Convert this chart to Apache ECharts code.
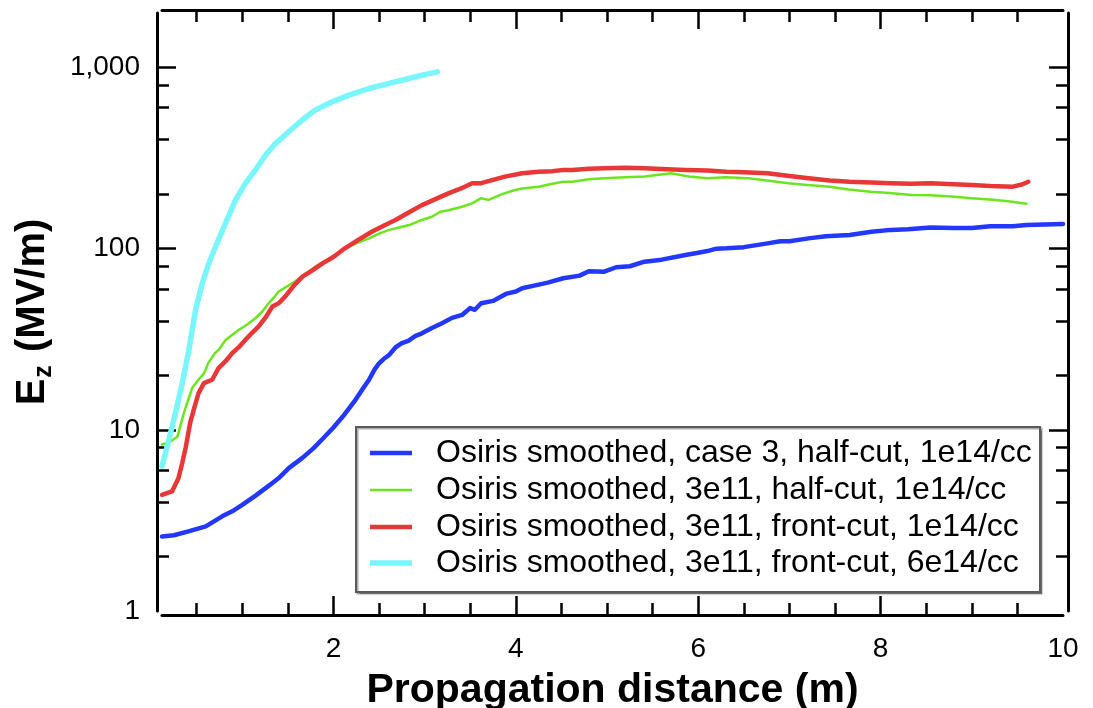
<!DOCTYPE html>
<html>
<head>
<meta charset="utf-8">
<title>Ez vs propagation distance</title>
<script src="https://cdn.jsdelivr.net/npm/echarts@6/dist/echarts.min.js"></script>
<style>
  html, body { margin: 0; padding: 0; background: #ffffff; }
  #chart { width: 1093px; height: 708px; }
</style>
</head>
<body>
<div id="chart"></div>
<script>
// ---- data: [propagation distance (m), Ez (MV/m)] ----
const caseThreeHalfCut = [
  [0.12,2.58],[0.25,2.62],[0.41,2.75],[0.6,2.93],[0.78,3.33],[0.89,3.55],[1.0,3.85],[1.15,4.35],
  [1.3,4.95],[1.4,5.42],[1.51,6.15],[1.66,7.0],[1.78,7.9],[1.88,8.9],[2.0,10.3],[2.1,11.8],
  [2.24,14.6],[2.32,16.8],[2.39,18.9],[2.45,21.5],[2.5,23.3],[2.55,24.6],[2.61,25.9],[2.68,28.5],
  [2.75,30.1],[2.82,31.0],[2.9,33.0],[2.97,34.1],[3.08,36.5],[3.19,38.8],[3.3,41.5],[3.41,43.1],
  [3.5,47.0],[3.55,46.0],[3.62,50.0],[3.75,51.5],[3.9,56.5],[4.0,58.0],[4.07,60.5],[4.2,62.5],
  [4.35,65],[4.52,68.7],[4.7,71],[4.8,75],[4.97,74.7],[5.1,79],[5.25,80],[5.41,84.8],[5.6,87],
  [5.86,92.3],[6.0,95],[6.1,97],[6.2,100],[6.31,100.5],[6.5,102],[6.76,107],[6.9,110],[7.0,110],
  [7.21,114],[7.4,117],[7.66,119],[7.9,124],[8.11,127],[8.3,128],[8.55,131],[8.8,130],[9.0,130],
  [9.2,133],[9.45,133],[9.6,135],[9.8,136],[10.0,137]
];
const halfCut3e11 = [
  [0.12,8.3],[0.21,8.6],[0.29,9.2],[0.36,12.4],[0.45,17.0],[0.52,18.9],[0.58,20.5],[0.63,23.5],
  [0.7,26.5],[0.74,27.6],[0.82,31.4],[0.96,35.6],[1.05,38],[1.145,41.3],[1.22,45],[1.29,50.0],
  [1.35,54],[1.4,58],[1.55,64.5],[1.65,70],[1.8,79.6],[1.95,88],[2.13,100.5],[2.25,107],[2.39,114],
  [2.5,121],[2.61,127],[2.72,131],[2.83,135],[2.95,143],[3.08,150],[3.17,160],[3.26,163],[3.4,170],
  [3.52,178],[3.62,190],[3.7,186],[3.85,200],[3.99,211],[4.07,215],[4.25,220],[4.4,228],[4.52,234],
  [4.62,234],[4.8,242],[4.97,245],[5.2,248],[5.41,250],[5.55,255],[5.7,261],[5.9,250],[6.1,245],
  [6.3,248],[6.55,245],[6.75,238],[6.99,230],[7.2,225],[7.44,220],[7.65,212],[7.89,206],[8.1,203],
  [8.34,198],[8.55,197],[8.78,194],[9.0,190],[9.23,186],[9.4,183],[9.6,177]
];
const frontCut3e11 = [
  [0.12,4.38],[0.23,4.57],[0.3,5.4],[0.34,6.5],[0.38,8.0],[0.43,11.0],[0.47,13],[0.52,15.9],
  [0.58,18.1],[0.67,18.9],[0.74,21.9],[0.82,24],[0.89,26.5],[0.96,28.5],[1.036,31.4],[1.1,34],
  [1.18,37.2],[1.26,42],[1.33,47.9],[1.4,50],[1.47,54.4],[1.56,62],[1.66,70.1],[1.77,76],[1.88,83.0],
  [2.0,90],[2.1,98.4],[2.25,110],[2.42,124],[2.55,134],[2.68,144],[2.82,158],[2.97,174],[3.1,186],
  [3.26,202],[3.4,215],[3.52,230],[3.62,230],[3.75,240],[3.88,250],[4.07,261],[4.25,266],[4.4,268],
  [4.52,272],[4.62,272],[4.8,276],[4.97,278],[5.2,280],[5.41,278],[5.6,275],[5.86,272],[6.1,270],
  [6.31,266],[6.5,264],[6.76,261],[7.0,252],[7.21,245],[7.44,238],[7.66,234],[7.9,232],[8.11,230],
  [8.33,228],[8.55,230],[8.8,227],[9.0,225],[9.2,222],[9.45,220],[9.55,226],[9.62,234]
];
const frontCut6e14 = [
  [0.12,6.3],[0.195,8.8],[0.268,12.4],[0.342,18.1],[0.414,27.6],[0.488,45.9],[0.561,64.4],
  [0.634,83],[0.707,102.5],[0.816,138],[0.926,186],[1.036,230],[1.145,272],[1.255,329],[1.364,381],
  [1.51,442],[1.657,513],[1.8,582],[1.986,647],[2.17,704],[2.39,766],[2.61,817],[2.83,870],
  [2.97,908],[3.14,946]
];

const seriesNames = [
  'Osiris smoothed, case 3, half-cut, 1e14/cc',
  'Osiris smoothed, 3e11, half-cut, 1e14/cc',
  'Osiris smoothed, 3e11, front-cut, 1e14/cc',
  'Osiris smoothed, 3e11, front-cut, 6e14/cc'
];
const seriesData = [caseThreeHalfCut, halfCut3e11, frontCut3e11, frontCut6e14];

// ---- axis ticks and labels ----
const xMajorTicks = [2, 4, 6, 8];
const xMinorTicks = [0.5, 1, 1.5, 2.5, 3, 3.5, 4.5, 5, 5.5, 6.5, 7, 7.5, 8.5, 9, 9.5];
const xLabels = [2, 4, 6, 8, 10];
const yMajorTicks = [10, 100, 1000];
const yMinorTicks = [2, 4, 6, 8, 20, 40, 60, 80, 200, 400, 600, 800];
const yLabels = [1, 10, 100, 1000];

// ---- styling ----
const FONT = '"Liberation Sans", Arial, Helvetica, sans-serif';
const colors = ['#2238ff', '#6be61e', '#e93636', '#78f6fb'];
const widths = [4.5, 2.5, 4.5, 5.5];
const legendRows = [453, 490, 527, 563];

const AXIS_LINE = { show: true, lineStyle: { color: '#000', width: 3 } };

function xAxisDef(position, offset, ticks, len, withLine, withLabels) {
  return {
    type: 'value', min: 0.12, max: 10, position: position, offset: offset,
    splitLine: { show: false },
    axisLine: withLine ? AXIS_LINE : { show: false },
    axisTick: { show: true, inside: true, length: len, customValues: ticks,
                lineStyle: { color: '#000', width: 2.5 } },
    axisLabel: withLabels ? {
      show: true, customValues: xLabels, color: '#000', fontSize: 28, fontFamily: FONT, margin: 20,
      formatter: v => String(Math.round(v))
    } : { show: false },
    name: withLabels ? 'Propagation distance (m)' : '',
    nameLocation: 'middle', nameGap: 55,
    nameTextStyle: { fontSize: 41, fontWeight: 'bold', color: '#000', fontFamily: FONT }
  };
}

function yAxisDef(position, offset, ticks, len, withLine, withLabels) {
  return {
    type: 'log', logBase: 10, min: 1, max: 2000, position: position, offset: offset,
    splitLine: { show: false },
    minorTick: { show: false },
    axisLine: withLine ? AXIS_LINE : { show: false },
    axisTick: { show: true, inside: true, length: len, customValues: ticks,
                lineStyle: { color: '#000', width: 2.5 } },
    axisLabel: withLabels ? {
      show: true, customValues: yLabels, color: '#000', fontSize: 28, fontFamily: FONT, margin: 17,
      formatter: v => Math.round(v).toLocaleString('en-US')
    } : { show: false },
    name: withLabels ? '{e|E}{z|z}{e| (MV/m)}' : '',
    nameLocation: 'middle', nameGap: 100, nameRotate: 90,
    nameTextStyle: {
      color: '#000', fontFamily: FONT,
      rich: {
        e: { fontSize: 40, fontWeight: 'bold', fontFamily: FONT, color: '#000', lineHeight: 48 },
        z: { fontSize: 25, fontWeight: 'bold', fontFamily: FONT, color: '#000', lineHeight: 48,
             verticalAlign: 'bottom', padding: [0, 2, 0, 1] }
      }
    }
  };
}

const chart = echarts.init(document.getElementById('chart'), null, { renderer: 'canvas' });

chart.setOption({
  backgroundColor: '#ffffff',
  animation: false,
  grid: { left: 162, right: 30, top: 13, bottom: 97, containLabel: false, outerBoundsMode: 'none' },
  xAxis: [
    xAxisDef('bottom', 4, xMajorTicks, 19, true, true),
    xAxisDef('bottom', 4, xMinorTicks, 12, false, false),
    xAxisDef('top', 3, xMajorTicks, 19, true, false),
    xAxisDef('top', 3, xMinorTicks, 12, false, false)
  ],
  yAxis: [
    yAxisDef('left', 5, yMajorTicks, 19, true, true),
    yAxisDef('left', 5, yMinorTicks, 12, false, false),
    yAxisDef('right', 5, yMajorTicks, 19, true, false),
    yAxisDef('right', 5, yMinorTicks, 12, false, false)
  ],
  legend: seriesNames.map((name, i) => ({
    data: [name],
    left: 370, top: legendRows[i] - 17,
    padding: 0, selectedMode: false,
    icon: 'rect', itemWidth: 42, itemHeight: widths[i],
    textStyle: { fontSize: 32, color: '#000', fontFamily: FONT, lineHeight: 34, padding: [0, 0, 0, 19] }
  })),
  graphic: [{
    type: 'rect', z: 3,
    shape: { x: 356, y: 427, width: 684, height: 165 },
    style: { fill: '#ffffff', stroke: '#5a5a5a', lineWidth: 2,
             shadowColor: 'rgba(0,0,0,0.35)', shadowOffsetX: 1.5, shadowOffsetY: 1.5, shadowBlur: 1 }
  }],
  series: seriesData.map((d, i) => ({
    name: seriesNames[i], type: 'line', data: d,
    xAxisIndex: 0, yAxisIndex: 0,
    symbol: 'none', smooth: false, clip: true,
    color: colors[i],
    lineStyle: { color: colors[i], width: widths[i], join: 'round', cap: 'round' },
    z: 2 + i * 0.1
  }))
});
</script>
</body>
</html>
